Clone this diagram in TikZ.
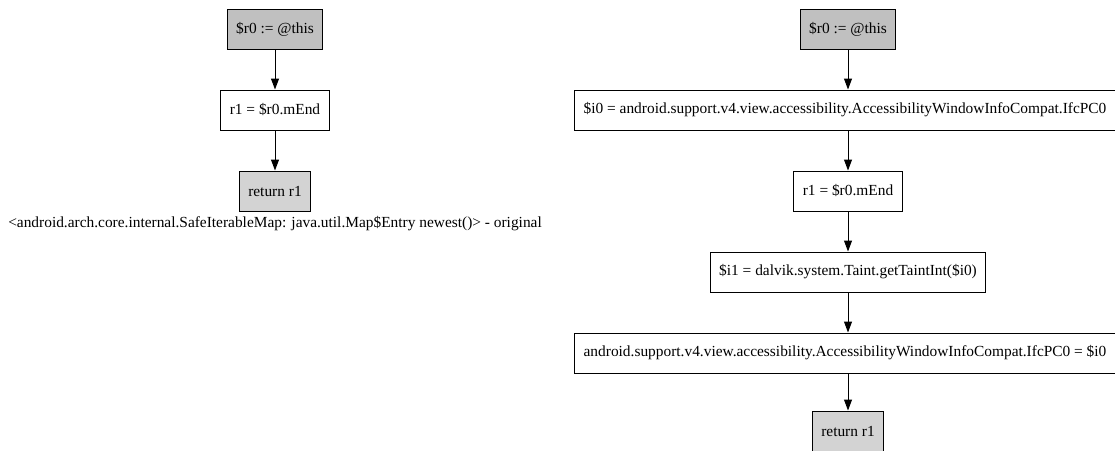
\documentclass[tikz,border=0pt]{standalone}
\usepackage{fontspec}
\setmainfont{Liberation Serif}
\usetikzlibrary{arrows.meta}
\definecolor{gvgray}{HTML}{C0C0C0}
\definecolor{gvlight}{HTML}{D3D3D3}
\tikzset{
  stmt/.style={draw=black, line width=1pt, rectangle, minimum height=40pt, inner xsep=9pt, inner ysep=0pt, font=\fontsize{15.4}{18}\selectfont, fill=white},
  headbox/.style={stmt, fill=gvgray},
  retbox/.style={stmt, fill=gvlight},
  flow/.style={line width=1pt, -{Triangle[length=11pt,width=8pt]}},
}
\begin{document}
\begin{tikzpicture}[x=1pt,y=-1pt]
\useasboundingbox (0,0) rectangle (1115,450);
% left graph
\node[headbox] (l1) at (275,29) {\$r0 := @this};
\node[stmt] (l2) at (275,110) {r1 = \$r0.mEnd};
\node[retbox] (l3) at (275,191) {return r1};
\node[font=\fontsize{15.4}{18}\selectfont, inner sep=0pt] (lab) at (275,224) {<android.arch.core.internal.SafeIterableMap: java.util.Map\$Entry newest()> - original};
\draw[flow] (l1) -- (l2);
\draw[flow] (l2) -- (l3);
% right graph
\node[headbox] (r1) at (848,29) {\$r0 := @this};
\node[stmt] (r2) at (845,110) {\$i0 = android.support.v4.view.accessibility.AccessibilityWindowInfoCompat.IfcPC0};
\node[stmt] (r3) at (848,191) {r1 = \$r0.mEnd};
\node[stmt] (r4) at (848,272) {\$i1 = dalvik.system.Taint.getTaintInt(\$i0)};
\node[stmt] (r5) at (845,353) {android.support.v4.view.accessibility.AccessibilityWindowInfoCompat.IfcPC0 = \$i0};
\node[retbox] (r6) at (848,431) {return r1};
\draw[flow] (r1) -- (r1 |- r2.north);
\draw[flow] (r2.south -| r3) -- (r3);
\draw[flow] (r3) -- (r4);
\draw[flow] (r4) -- (r4 |- r5.north);
\draw[flow] (r5.south -| r6) -- (r6);
\end{tikzpicture}
\end{document}
